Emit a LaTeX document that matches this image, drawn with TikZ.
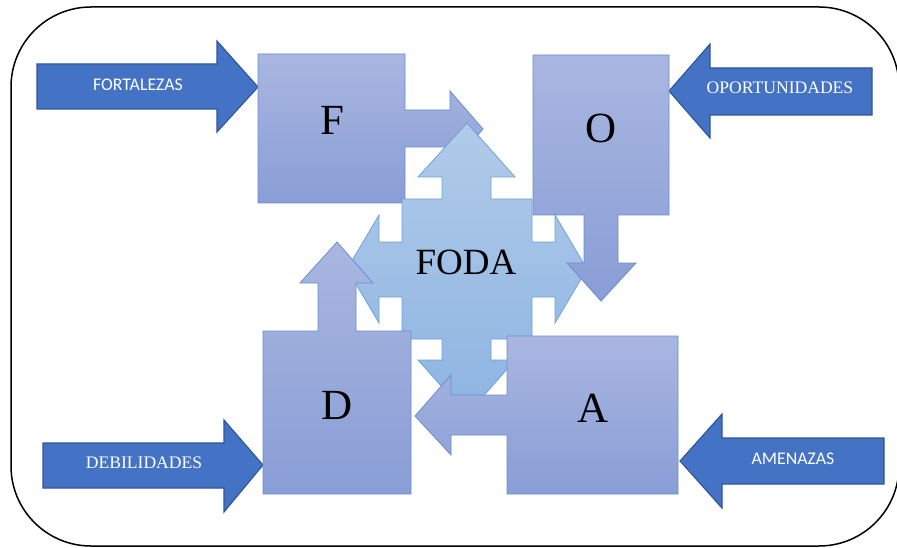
\documentclass[tikz,border=0pt]{standalone}
\usepackage{fontspec}
\setmainfont{Liberation Serif}
\newfontfamily\labelsans{Carlito}
\begin{document}
\begin{tikzpicture}[x=1pt,y=-1pt,
  inarrow/.style={fill=inblue,draw=inedge,line width=1.1pt,line join=miter},
  sidebox/.style={top color=boxtop,bottom color=boxbot,draw=boxedge,line width=0.8pt},
  crossshape/.style={top color=crosstop,bottom color=crossbot,draw=crossedge,line width=0.8pt},
  inlabel/.style={text=white,font=\fontsize{17.6}{20}\selectfont,inner sep=0pt},
  inlabelsans/.style={inlabel,font=\labelsans\fontsize{17.8}{20}\selectfont},
  letter/.style={font=\fontsize{43}{46}\selectfont,inner sep=0pt},
  bigword/.style={font=\fontsize{37}{40}\selectfont,inner sep=0pt}]
\definecolor{inblue}{HTML}{4472C4}
\definecolor{inedge}{HTML}{2F5597}
\definecolor{boxtop}{HTML}{A9B6E0}
\definecolor{boxbot}{HTML}{899ED6}
\definecolor{boxedge}{HTML}{6A8DD2}
\definecolor{crosstop}{HTML}{B1CBE9}
\definecolor{crossbot}{HTML}{8DB4E2}
\definecolor{crossedge}{HTML}{6FA2DA}

\useasboundingbox (0,0) rectangle (897,548);
\begin{scope}
\clip (0,0) rectangle (897,548);
% rounded frame
\draw[line width=1.5pt,rounded corners=80pt] (11,7) rectangle (899,546);
\end{scope}

% inputs
\draw[inarrow] (37,64) -- (217,64) -- (217,41) -- (258,87) -- (217,132) -- (217,109) -- (37,109) -- cycle;
\node[inlabelsans] (fort) at (138,85) {FORTALEZAS};

\draw[inarrow] (872,68) -- (710,68) -- (710,44) -- (669,91) -- (710,138) -- (710,115) -- (872,115) -- cycle;
\node[inlabel] (opor) at (780,88) {OPORTUNIDADES};

\draw[inarrow] (43,443) -- (224,443) -- (224,420) -- (263,465) -- (224,512) -- (224,488) -- (43,488) -- cycle;
\node[inlabel] (debi) at (144,463) {DEBILIDADES};

\draw[inarrow] (884,438) -- (722,438) -- (722,414) -- (680,461) -- (722,508) -- (722,484) -- (884,484) -- cycle;
\node[inlabelsans] (amen) at (793,459) {AMENAZAS};

% F box with arrow to the right
\path[sidebox] (258,54) -- (405,54) -- (405,110) -- (450,110) -- (450,91) -- (483,129)
  -- (450,167) -- (450,147) -- (405,147) -- (405,203) -- (258,203) -- cycle;
\node[letter] (F) at (332,120) {F};

% central four-way arrow
\path[crossshape] (467,123) -- (515,177) -- (491,177) -- (491,199) -- (532,199) -- (532,242)
  -- (555,242) -- (555,215) -- (587,269) -- (555,323) -- (555,297) -- (532,297) -- (532,339)
  -- (491,339) -- (491,360) -- (515,360) -- (467,415) -- (418,360) -- (442,360) -- (442,339)
  -- (402,339) -- (402,297) -- (379,297) -- (379,323) -- (347,269) -- (379,215) -- (379,242)
  -- (402,242) -- (402,199) -- (442,199) -- (442,177) -- (418,177) -- cycle;
\node[bigword] (foda) at (466,262) {FODA};

% O box with arrow down
\path[sidebox] (533,55) -- (669,55) -- (669,215) -- (618,215) -- (618,263) -- (636,263)
  -- (601,301) -- (567,263) -- (584,263) -- (584,215) -- (533,215) -- cycle;
\node[letter] (O) at (601,128) {O};

% D box with arrow up
\path[sidebox] (263,331) -- (318,331) -- (318,283) -- (300,283) -- (337,242) -- (373,283)
  -- (356,283) -- (356,331) -- (411,331) -- (411,494) -- (263,494) -- cycle;
\node[letter] (D) at (337,405) {D};

% A box with arrow left
\path[sidebox] (507,336) -- (678,336) -- (678,494) -- (507,494) -- (507,435) -- (451,435)
  -- (451,455) -- (415,416) -- (451,375) -- (451,395) -- (507,395) -- cycle;
\node[letter] (A) at (593,408) {A};
\end{tikzpicture}
\end{document}
